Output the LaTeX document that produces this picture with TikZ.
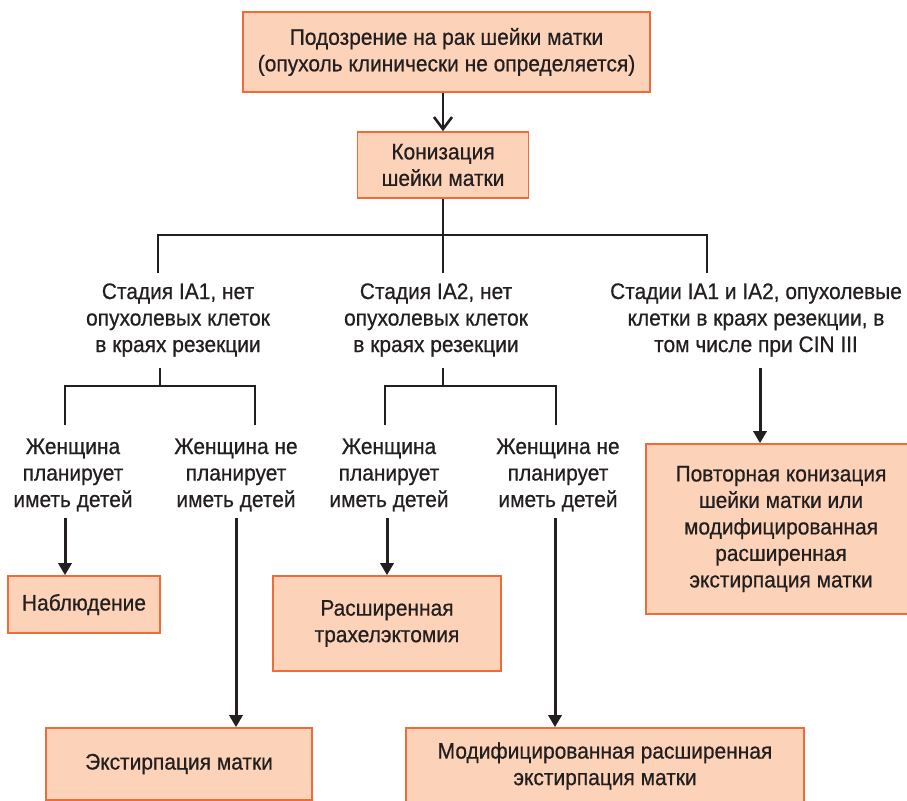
\documentclass[tikz,border=0pt]{standalone}
\usepackage{fontspec}
\setmainfont[FakeStretch=0.93,FakeBold=0.6]{Liberation Sans}
\usetikzlibrary{arrows.meta}
\definecolor{boxfill}{RGB}{252,211,184}
\definecolor{boxline}{RGB}{241,107,56}
\definecolor{ink}{RGB}{35,31,32}
\begin{document}
\begin{tikzpicture}[x=1pt,y=-1pt,
  every node/.style={font=\fontsize{22.5}{26.5}\selectfont, text=ink, align=center, inner sep=0pt},
  box/.style={draw=boxline, fill=boxfill, line width=1.6pt},
  tree/.style={draw=ink, line width=2.1pt},
  arr/.style={draw=ink, line width=3pt, -{Triangle[length=12pt,width=13pt]}},
  openarr/.style={draw=ink, line width=2.6pt, -{Straight Barb[length=12pt,width=18pt,line width=2.6pt]}}]
\path[use as bounding box, clip] (0,0) rectangle (907,800);
% boxes
\node[box, minimum width=407pt, minimum height=80pt] (top) at (446.5,52) {Подозрение на рак шейки матки\\(опухоль клинически не определяется)};
\node[box, minimum width=171pt, minimum height=66pt] (kon) at (443,165) {Конизация\\шейки матки};
% level 2 texts
\node (s1) at (178,320) {Стадия IA1, нет\\опухолевых клеток\\в краях резекции};
\node (s2) at (436,320) {Стадия IA2, нет\\опухолевых клеток\\в краях резекции};
\node (s3) at (756,320) {Стадии IA1 и IA2, опухолевые\\клетки в краях резекции, в\\том числе при CIN III};
% level 3 texts
\node (w1) at (73,475) {Женщина\\планирует\\иметь детей};
\node (w2) at (236,475) {Женщина не\\планирует\\иметь детей};
\node (w3) at (389,475) {Женщина\\планирует\\иметь детей};
\node (w4) at (558,475) {Женщина не\\планирует\\иметь детей};
% result boxes
\node[box, minimum width=152pt, minimum height=57pt] (obs) at (84,604.5) {Наблюдение};
\node[box, minimum width=228pt, minimum height=95pt] (tra) at (387,623.5) {Расширенная\\трахелэктомия};
\node[box, minimum width=266pt, minimum height=72pt] (ext) at (179,764) {Экстирпация матки};
\node[box, minimum width=398pt, minimum height=76pt] (mod) at (605,766) {Модифицированная расширенная\\экстирпация матки};
\node[box, minimum width=270pt, minimum height=170pt] (rep) at (781,529) {Повторная конизация\\шейки матки или\\модифицированная\\расширенная\\экстирпация матки};
% junction coordinates
\coordinate (b0) at (443,235);
\coordinate (b1) at (158,235);
\coordinate (b3) at (707,235);
\coordinate (d1) at (158,273);
\coordinate (d2) at (443,273);
\coordinate (d3) at (707,273);
\coordinate (u1) at (160,368);
\coordinate (c1) at (160,386);
\coordinate (c1l) at (65,386);
\coordinate (c1r) at (255,386);
\coordinate (e1l) at (65,425);
\coordinate (e1r) at (255,425);
\coordinate (u2) at (443,368);
\coordinate (c2) at (443,386);
\coordinate (c2l) at (385,386);
\coordinate (c2r) at (556,386);
\coordinate (e2l) at (385,425);
\coordinate (e2r) at (556,425);
\coordinate (a1) at (65,518);
\coordinate (a2) at (236,518);
\coordinate (a3) at (387,518);
\coordinate (a4) at (555,518);
\coordinate (a5) at (760,368);
% connectors
\draw[openarr] (top.south -| kon.north) -- (kon.north);
\draw[tree] (kon.south) -- (b0);
\draw[tree] (d1) -- (b1) -- (b3) -- (d3);
\draw[tree] (b0) -- (d2);
\draw[tree] (u1) -- (c1);
\draw[tree] (e1l) -- (c1l) -- (c1r) -- (e1r);
\draw[tree] (u2) -- (c2);
\draw[tree] (e2l) -- (c2l) -- (c2r) -- (e2r);
\draw[arr] (a1) -- (a1 |- obs.north);
\draw[arr] (a2) -- (a2 |- ext.north);
\draw[arr] (a3) -- (a3 |- tra.north);
\draw[arr] (a4) -- (a4 |- mod.north);
\draw[arr] (a5) -- (a5 |- rep.north);
\end{tikzpicture}
\end{document}
